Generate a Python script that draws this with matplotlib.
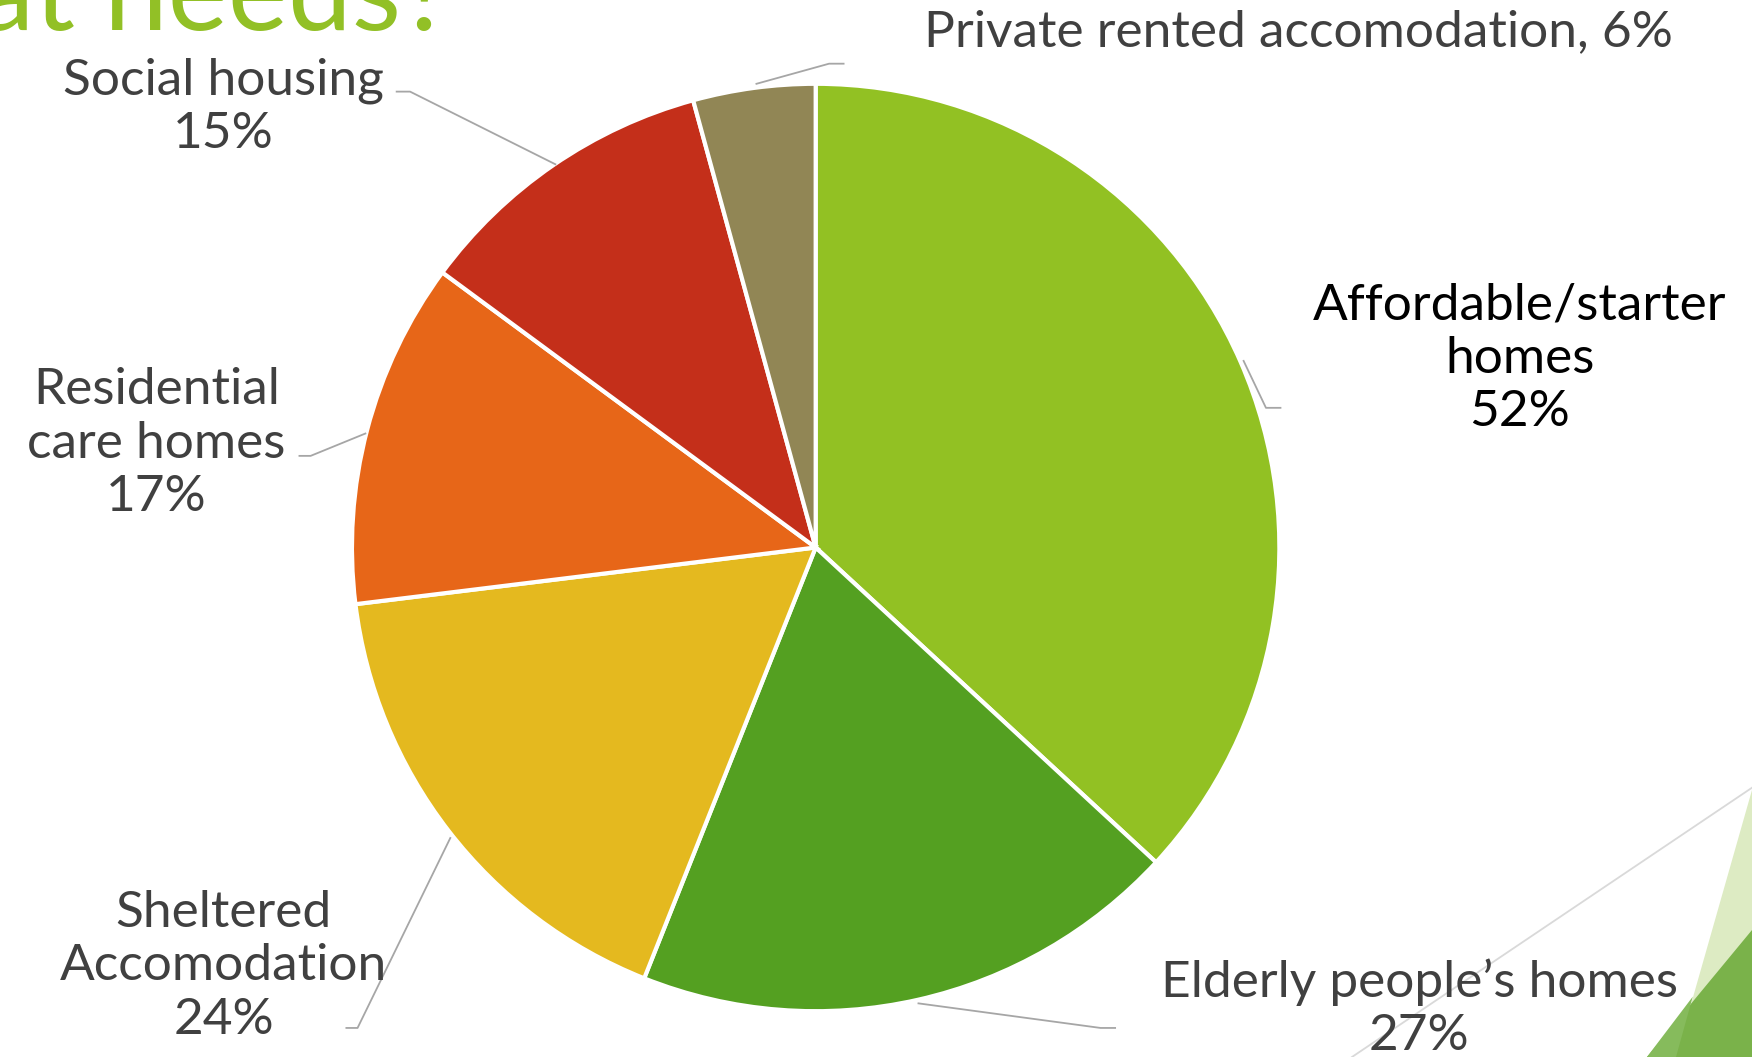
import matplotlib.pyplot as plt
from matplotlib.patches import Polygon

# data (values are the printed percentages)
categories = ['Affordable/starter\nhomes', 'Elderly people’s homes', 'Sheltered\nAccomodation',
              'Residential\ncare homes', 'Social housing', 'Private rented accomodation']
values = [52, 27, 24, 17, 15, 6]
colors = ['#92C123', '#54A021', '#E4B91F', '#E76618', '#C42F1A', '#918655']
title = 'What needs?'

# working units = shrunk reference pixels, y measured from the top
W, H = 1568, 946


def Y(y):
    return H - y


plt.rcParams['font.family'] = ['Lato', 'DejaVu Sans']

fig = plt.figure(figsize=(17.52, 10.57), dpi=100)
ax = fig.add_axes([0, 0, 1, 1])

ax.pie(values, colors=colors, startangle=90, counterclock=False,
       center=(730, Y(490)), radius=415,
       wedgeprops=dict(edgecolor='white', linewidth=3))
ax.set_xlim(0, W)
ax.set_ylim(0, H)
ax.set_aspect('equal')
ax.axis('off')

# label centres and leader lines (layout only)
label_pos = [(1360, 321), (1270, 903), (200, 865), (140, 397), (200, 96), (1162, 29)]
leaders = [
    [(1113, 323), (1133, 365), (1146, 365)],
    [(822, 898), (985, 920), (998, 920)],
    [(403, 750), (320, 920), (310, 920)],
    [(327, 388), (278, 408), (268, 408)],
    [(497, 147), (367, 82), (355, 82)],
    [(677, 75), (742, 57), (755, 57)],
]

for i, (name, v) in enumerate(zip(categories, values)):
    if i == 5:
        txt = f'{name}, {v}%'
    else:
        txt = f'{name}\n{v}%'
    col = '#000000' if i == 0 else '#404040'
    x, y = label_pos[i]
    ax.text(x, Y(y), txt, ha='center', va='center', multialignment='center',
            fontsize=37, color=col, linespacing=1.2)
    pts = leaders[i]
    ax.plot([p[0] for p in pts], [Y(p[1]) for p in pts], color='#A6A6A6', lw=1.3)

# title, cut off by the top edge
ax.text(405, Y(27), title, ha='right', va='baseline', fontsize=82, color='#92C026')

# slide decoration bottom right
ax.plot([1568, 1210], [Y(705), Y(946)], color='#D9D9D9', lw=1.3)
ax.add_patch(Polygon([(1568, Y(707)), (1568, Y(946)), (1500, Y(946))], closed=True,
                     facecolor='#DDEBC3', edgecolor='none'))
ax.add_patch(Polygon([(1568, Y(832)), (1568, Y(946)), (1474, Y(946))], closed=True,
                     facecolor='#7AB24A', edgecolor='none'))
ax.add_patch(Polygon([(1515, Y(892)), (1500, Y(946)), (1474, Y(946))], closed=True,
                     facecolor='#86BB5C', edgecolor='none'))

fig.savefig('out.png', dpi=100)
